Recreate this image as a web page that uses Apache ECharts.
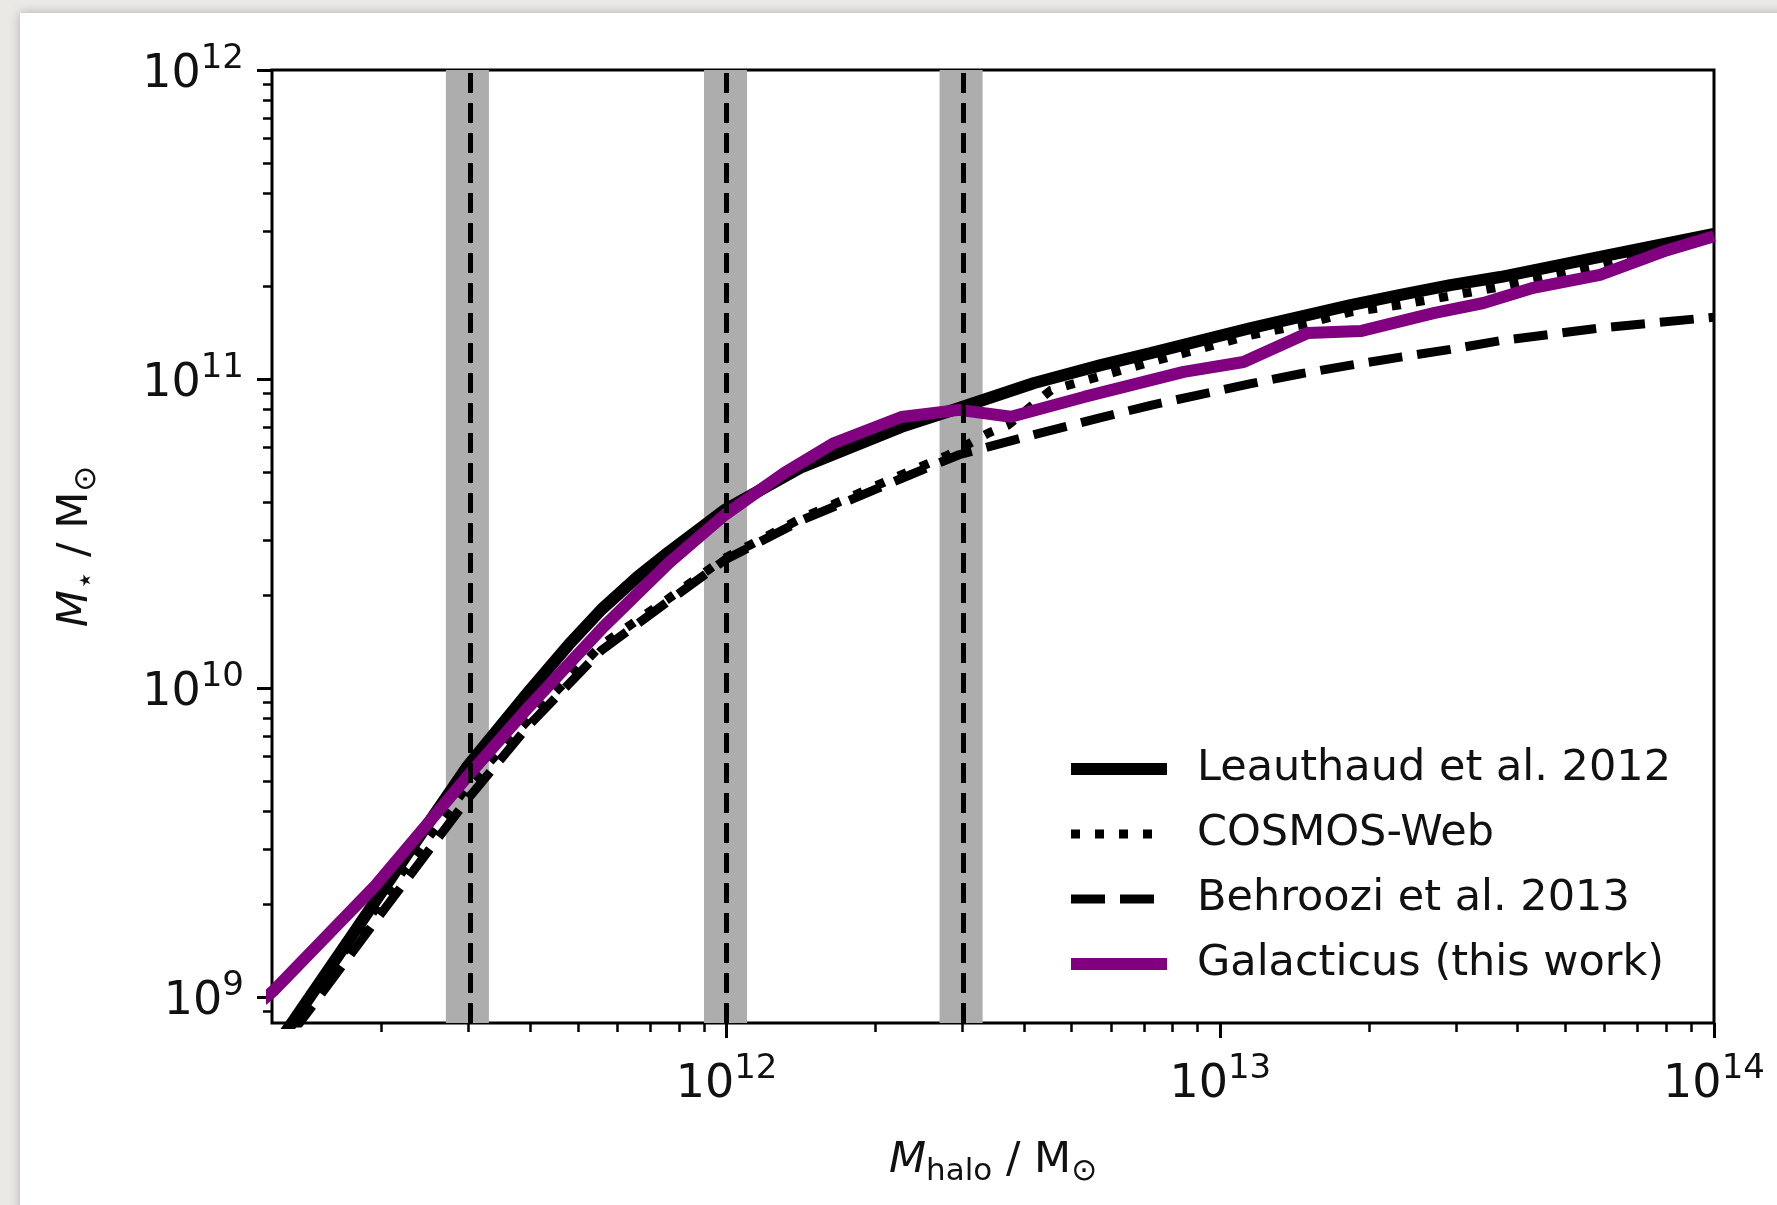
<!DOCTYPE html>
<html>
<head>
<meta charset="utf-8">
<script src="https://cdn.jsdelivr.net/npm/echarts@6/dist/echarts.min.js"></script>
<style>
  html, body { margin: 0; padding: 0; background: #eae9e5; }
  #main { width: 1777px; height: 1205px; }
</style>
</head>
<body>
<div id="main"></div>
<script>
// all values are log10 of the masses
var logMhaloLeauthaud = [11.00, 11.124, 11.25, 11.35, 11.474, 11.60, 11.68, 11.747, 11.82, 11.883, 11.996, 12.152, 12.354, 12.471, 12.623, 12.758, 12.859, 13.062, 13.163, 13.264, 13.365, 13.466, 13.567, 13.769, 14.0];
var logMstarLeauthaud = [8.64, 8.926, 9.22, 9.455, 9.744, 9.99, 10.14, 10.255, 10.36, 10.44, 10.576, 10.715, 10.845, 10.906, 10.987, 11.045, 11.084, 11.165, 11.202, 11.239, 11.272, 11.304, 11.330, 11.395, 11.47];

var logMhaloCosmos = [11.00, 11.124, 11.25, 11.35, 11.474, 11.60, 11.747, 11.883, 11.996, 12.152, 12.354, 12.449, 12.53, 12.57, 12.657, 12.859, 13.062, 13.163, 13.264, 13.365, 13.452, 13.567, 13.749, 14.0];
var logMstarCosmos = [8.64, 8.93, 9.20, 9.42, 9.68, 9.90, 10.14, 10.29, 10.42, 10.55, 10.69, 10.754, 10.825, 10.851, 10.964, 11.055, 11.142, 11.175, 11.217, 11.240, 11.265, 11.298, 11.359, 11.465];

var logMhaloBehroozi = [11.00, 11.165, 11.30, 11.474, 11.60, 11.747, 11.996, 12.152, 12.354, 12.471, 12.623, 12.758, 12.859, 13.062, 13.163, 13.264, 13.365, 13.466, 13.567, 13.769, 14.0];
var logMstarBehroozi = [8.63, 8.98, 9.27, 9.638, 9.88, 10.123, 10.414, 10.543, 10.678, 10.755, 10.82, 10.875, 10.915, 10.985, 11.017, 11.045, 11.071, 11.096, 11.124, 11.165, 11.20];

var logMhaloGalacticus = [11.06, 11.084, 11.286, 11.474, 11.60, 11.75, 11.883, 11.996, 12.117, 12.218, 12.354, 12.471, 12.576, 12.724, 12.926, 13.047, 13.177, 13.284, 13.432, 13.533, 13.634, 13.769, 13.905, 14.0];
var logMstarGalacticus = [8.99, 9.023, 9.356, 9.712, 9.94, 10.197, 10.405, 10.560, 10.696, 10.793, 10.877, 10.900, 10.878, 10.942, 11.023, 11.055, 11.149, 11.155, 11.213, 11.246, 11.295, 11.337, 11.417, 11.462];

var seriesNames = ['Leauthaud et al. 2012', 'COSMOS-Web', 'Behroozi et al. 2013', 'Galacticus (this work)'];

// highlighted halo masses (log10) and the +-10% bands round them
var markedHalo = [Math.log10(3e11), 12, Math.log10(3e12)];
var bandLow = [Math.log10(2.7e11), Math.log10(0.9e12), Math.log10(2.7e12)];
var bandHigh = [Math.log10(3.3e11), Math.log10(1.1e12), Math.log10(3.3e12)];

var xMajor = [12, 13, 14];
var yMajor = [9, 10, 11, 12];
var xMin = Math.log10(1.2e11), xMax = 14;
var yMin = 8.916, yMax = 12;

function minors(lo, hi) {
    var out = [];
    for (var n = Math.floor(lo); n < hi; n++) {
        for (var k = 2; k <= 9; k++) {
            var v = n + Math.log10(k);
            if (v >= lo && v <= hi) out.push(v);
        }
    }
    return out;
}

function pairs(xs, ys) {
    return xs.map(function (x, i) { return [x, ys[i]]; });
}

var FONT = 'DejaVu Sans';
var richPow = {
    b: { fontSize: 46, fontFamily: FONT, color: '#111', verticalAlign: 'bottom' },
    s: { fontSize: 34, fontFamily: FONT, color: '#111', verticalAlign: 'bottom', padding: [0, 0, 22, 0] }
};
function powLabel(v) {
    return '{b|10}{s|' + Math.round(v) + '}';
}

var richName = {
    i: { fontSize: 43, fontFamily: FONT, fontStyle: 'italic', color: '#111', verticalAlign: 'top' },
    r: { fontSize: 43, fontFamily: FONT, color: '#111', verticalAlign: 'top' },
    sub: { fontSize: 31, fontFamily: FONT, color: '#111', verticalAlign: 'top', padding: [17, 0, 0, 0] }
};

var chartDom = document.getElementById('main');
var myChart = echarts.init(chartDom);
var option;

option = {
    animation: false,
    backgroundColor: '#eae9e5',
    graphic: [
        {
            type: 'rect',
            z: -10,
            shape: { x: 20, y: 13, width: 1780, height: 1210 },
            style: { fill: '#ffffff', shadowBlur: 10, shadowColor: 'rgba(0,0,0,0.25)' }
        }
    ],
    grid: {
        left: 272,
        right: 63,
        top: 70,
        bottom: 182,
        show: true,
        borderColor: '#000',
        borderWidth: 3,
        backgroundColor: 'transparent'
    },
    legend: {
        orient: 'vertical',
        left: 1060,
        top: 741,
        itemWidth: 96,
        itemHeight: 14,
        itemGap: 19,
        data: seriesNames,
        lineStyle: { width: 'inherit' },
        itemStyle: { color: 'rgba(0,0,0,0)', borderWidth: 0, opacity: 0 },
        textStyle: {
            fontSize: 43,
            fontFamily: FONT,
            color: '#111',
            lineHeight: 46,
            padding: [0, 0, 0, 25]
        }
    },
    xAxis: [
        {
            type: 'value',
            min: xMin,
            max: xMax,
            name: '{i|M}{sub|halo}{r| / M}{sub|⊙}',
            nameLocation: 'middle',
            nameGap: 116,
            nameTextStyle: { rich: richName },
            axisLine: { show: false },
            splitLine: { show: false },
            axisTick: { show: true, customValues: xMajor, length: 15, lineStyle: { color: '#000', width: 3 } },
            axisLabel: { show: true, customValues: xMajor, margin: 29, formatter: powLabel, rich: richPow }
        },
        {
            type: 'value',
            min: xMin,
            max: xMax,
            position: 'bottom',
            axisLine: { show: false },
            splitLine: { show: false },
            axisTick: { show: true, customValues: minors(xMin, xMax), length: 9, lineStyle: { color: '#000', width: 2.5 } },
            axisLabel: { show: false }
        }
    ],
    yAxis: [
        {
            type: 'value',
            min: yMin,
            max: yMax,
            name: '{i|M}{sub|⋆}{r| / M}{sub|⊙}',
            nameLocation: 'middle',
            nameGap: 170,
            nameRotate: 90,
            nameTextStyle: { rich: richName },
            axisLine: { show: false },
            splitLine: { show: false },
            axisTick: { show: true, customValues: yMajor, length: 15, lineStyle: { color: '#000', width: 3 } },
            axisLabel: { show: true, customValues: yMajor, margin: 28, formatter: powLabel, rich: richPow }
        },
        {
            type: 'value',
            min: yMin,
            max: yMax,
            position: 'left',
            axisLine: { show: false },
            splitLine: { show: false },
            axisTick: { show: true, customValues: minors(yMin, yMax), length: 9, lineStyle: { color: '#000', width: 2.5 } },
            axisLabel: { show: false }
        }
    ],
    series: [
        {
            name: seriesNames[0],
            type: 'line',
            z: 3,
            symbol: 'none',
            clip: true,
            lineStyle: { color: '#000', width: 12 },
            itemStyle: { color: '#000' },
            data: pairs(logMhaloLeauthaud, logMstarLeauthaud),
            markArea: {
                silent: true,
                z: 1,
                itemStyle: { color: '#adadad', opacity: 1 },
                data: bandLow.map(function (lo, i) { return [{ xAxis: lo }, { xAxis: bandHigh[i] }]; })
            },
            markLine: {
                silent: true,
                z: 20,
                symbol: ['none', 'none'],
                label: { show: false },
                lineStyle: { color: '#000', width: 5, type: [20, 10] },
                data: markedHalo.map(function (v) { return { xAxis: v }; })
            }
        },
        {
            name: seriesNames[1],
            type: 'line',
            z: 4,
            symbol: 'none',
            clip: true,
            lineStyle: { color: '#000', width: 9, type: [9, 15] },
            itemStyle: { color: '#000' },
            data: pairs(logMhaloCosmos, logMstarCosmos)
        },
        {
            name: seriesNames[2],
            type: 'line',
            z: 5,
            symbol: 'none',
            clip: true,
            lineStyle: { color: '#000', width: 9, type: [34, 15] },
            itemStyle: { color: '#000' },
            data: pairs(logMhaloBehroozi, logMstarBehroozi)
        },
        {
            name: seriesNames[3],
            type: 'line',
            z: 6,
            symbol: 'none',
            clip: true,
            lineStyle: { color: '#800080', width: 12 },
            itemStyle: { color: '#800080' },
            data: pairs(logMhaloGalacticus, logMstarGalacticus)
        }
    ]
};

option && myChart.setOption(option);
</script>
</body>
</html>
